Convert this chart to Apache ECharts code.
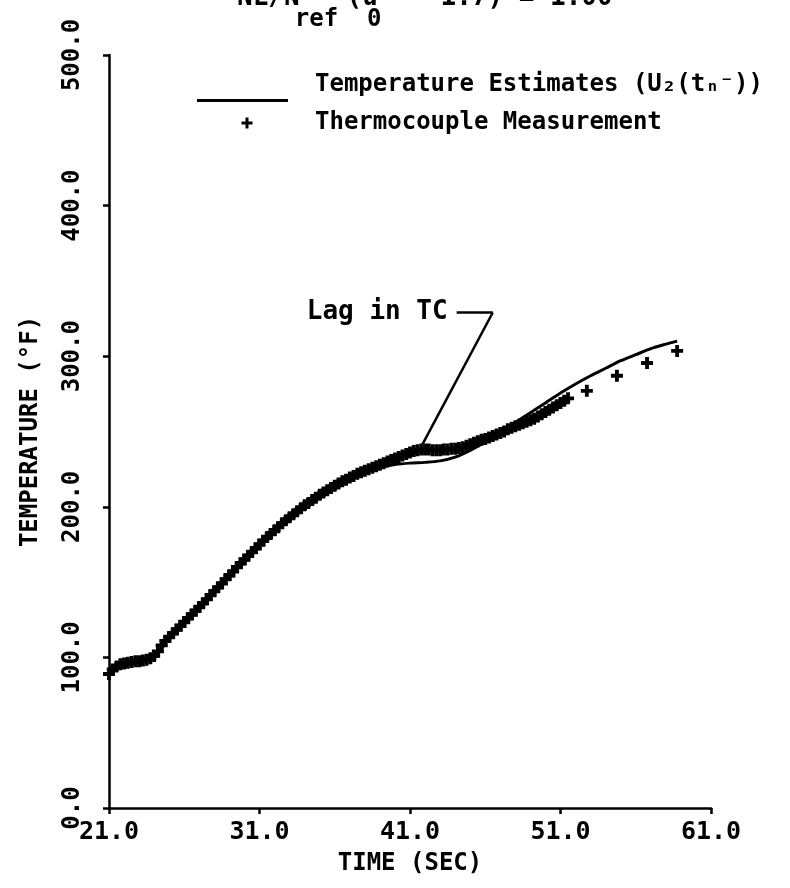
<!DOCTYPE html>
<html>
<head>
<meta charset="utf-8">
<script src="https://cdn.jsdelivr.net/npm/echarts@6/dist/echarts.min.js"></script>
<style>
  html, body { margin: 0; background: #fff; }
  #chart { width: 790px; height: 888px; }
</style>
</head>
<body>
<div id="chart"></div>
<script>
// temperature estimate curve (sec, degF)
const estTime = [21, 21.5, 22, 23, 23.5, 24, 24.5, 25,
  26, 27, 28, 29, 30, 31, 32, 33,
  34, 35, 36, 37, 38, 39, 40, 41,
  42, 43, 44, 45, 46, 47, 48, 49,
  50, 51, 52, 53, 54, 55, 56, 57,
  58, 58.75];
const estTemp = [88, 93, 95.5, 97, 98, 100, 106, 113,
  123.5, 134, 144.5, 155, 165.5, 175.5, 185, 193.5,
  201.5, 208, 214, 219, 223, 226, 228, 229,
  229.5, 230.5, 233, 237.5, 243, 249.5, 256, 262.5,
  269, 275.5, 281.5, 287, 292, 297, 301, 305,
  308, 310];

// thermocouple readings (sec, degF)
const tcTime = [21, 21.25, 21.5, 21.75, 22, 22.25, 22.5, 22.75,
  23, 23.25, 23.5, 23.75, 24, 24.25, 24.5, 24.75,
  25, 25.25, 25.5, 25.75, 26, 26.25, 26.5, 26.75,
  27, 27.25, 27.5, 27.75, 28, 28.25, 28.5, 28.75,
  29, 29.25, 29.5, 29.75, 30, 30.25, 30.5, 30.75,
  31, 31.25, 31.5, 31.75, 32, 32.25, 32.5, 32.75,
  33, 33.25, 33.5, 33.75, 34, 34.25, 34.5, 34.75,
  35, 35.25, 35.5, 35.75, 36, 36.25, 36.5, 36.75,
  37, 37.25, 37.5, 37.75, 38, 38.25, 38.5, 38.75,
  39, 39.25, 39.5, 39.75, 40, 40.25, 40.5, 40.75,
  41, 41.25, 41.5, 41.75, 42, 42.25, 42.5, 42.75,
  43, 43.25, 43.5, 43.75, 44, 44.25, 44.5, 44.75,
  45, 45.25, 45.5, 45.75, 46, 46.25, 46.5, 46.75,
  47, 47.25, 47.5, 47.75, 48, 48.25, 48.5, 48.75,
  49, 49.25, 49.5, 49.75, 50, 50.25, 50.5, 50.75,
  51, 51.25, 51.5,
  52.75, 54.75, 56.75, 58.75];
const tcTemp = [89, 92, 94, 95.5, 96, 96.5, 97, 97.5,
  97.5, 98, 98.5, 99.5, 101, 104, 108, 111,
  113.5, 116, 118.5, 121, 123.5, 126, 128.5, 131,
  133.5, 136, 138.5, 141.5, 144, 146.5, 149, 152,
  154.5, 157, 160, 162.5, 165, 167.5, 170, 172.5,
  175, 177.5, 180, 182, 184.5, 186.5, 189, 191,
  193, 195, 197, 199, 201, 202.5, 204.5, 206,
  208, 209.5, 211, 212.5, 214, 215.5, 217, 218,
  219.5, 220.5, 222, 223, 224, 225, 226, 227,
  228, 229, 230, 231, 232, 233, 234, 235,
  236, 237, 237.5, 238, 238, 238, 237.5, 237.5,
  237.5, 238, 238, 238.5, 238.5, 239, 239.5, 240.5,
  241.5, 242.5, 243.5, 244.5, 245, 246, 247, 248,
  249, 250, 251.5, 252.5, 253.5, 254.5, 255.5, 256.5,
  257.5, 258.5, 260, 261.5, 263, 264.5, 266, 267.5,
  269, 270.5, 272,
  277, 287, 295.5, 303.5];

const xTicks = [21, 31, 41, 51, 61];
const yTicks = [0, 100, 200, 300, 400, 500];

// "Lag in TC" leader, in data units
const lagLabelEnd = [44.1, 329];
const lagCorner = [46.5, 329];
const lagTip = [41.8, 241];

const estName = 'Temperature Estimates (U\u2082(t\u2099\u207B))';
const tcName = 'Thermocouple Measurement';

const FONT = '"DejaVu Sans Mono", monospace';

const zip = (xs, ys) => xs.map((x, i) => [x, ys[i]]);

// legend icons: box is 113 x 36, line drawn low, plus centred
const lineIcon = 'path://M0,0L0,0M113,36L113,36M0,32H91V35H0Z';
const plusIcon = 'path://M0,0L0,0M113,36L113,36M44.5,16.5H55.5V19.5H44.5ZM48.5,12.5H51.5V23.5H48.5Z';
const plusSymbol = 'path://M0,3.4H10V6.6H0ZM3.4,0H6.6V10H3.4Z';

const chart = echarts.init(document.getElementById('chart'));

chart.setOption({
  backgroundColor: '#fff',
  animation: false,
  textStyle: { fontFamily: FONT, color: '#000' },
  title: [
    {
      text: 'NL/N   (u  - 1.7) = 1.00',
      left: 232, top: -20,
      textStyle: { fontFamily: FONT, fontSize: 26, fontWeight: 'bold', color: '#000' }
    },
    {
      text: '    ref  0',
      left: 232, top: 3,
      textStyle: { fontFamily: FONT, fontSize: 24, fontWeight: 'bold', color: '#000' }
    }
  ],
  legend: {
    orient: 'vertical',
    left: 192,
    top: 62,
    itemWidth: 113,
    itemHeight: 36,
    itemGap: 2,
    selectedMode: false,
    itemStyle: { borderWidth: 0 },
    textStyle: { fontFamily: FONT, fontSize: 24, fontWeight: 'bold', color: '#000' },
    data: [
      { name: estName, icon: lineIcon },
      { name: tcName, icon: plusIcon }
    ]
  },
  grid: { left: 109, right: 79, top: 55, bottom: 80, containLabel: false },
  xAxis: {
    type: 'value',
    min: xTicks[0], max: xTicks[xTicks.length - 1], interval: 10,
    name: 'TIME (SEC)',
    nameLocation: 'middle',
    nameGap: 44,
    nameTextStyle: { fontFamily: FONT, fontSize: 24, fontWeight: 'bold', color: '#000' },
    axisLine: { lineStyle: { color: '#000', width: 2.5 } },
    axisTick: { show: true, inside: false, length: 6, lineStyle: { color: '#000', width: 2.5 } },
    splitLine: { show: false },
    axisLabel: {
      fontFamily: FONT, fontSize: 25, fontWeight: 'bold', color: '#000', margin: 12,
      showMinLabel: true, showMaxLabel: true,
      formatter: v => v.toFixed(1)
    }
  },
  yAxis: {
    type: 'value',
    min: yTicks[0], max: yTicks[yTicks.length - 1], interval: 100,
    name: 'TEMPERATURE (\u00B0F)',
    nameLocation: 'middle',
    nameRotate: 90,
    nameGap: 66,
    nameTextStyle: { fontFamily: FONT, fontSize: 24, fontWeight: 'bold', color: '#000' },
    axisLine: { lineStyle: { color: '#000', width: 2.5 } },
    axisTick: { show: true, inside: false, length: 6, lineStyle: { color: '#000', width: 2.5 } },
    splitLine: { show: false },
    axisLabel: {
      fontFamily: FONT, fontSize: 24, fontWeight: 'bold', color: '#000', margin: 24, rotate: 90,
      showMinLabel: true, showMaxLabel: true,
      formatter: v => v.toFixed(1)
    }
  },
  series: [
    {
      name: estName,
      type: 'line',
      data: zip(estTime, estTemp),
      showSymbol: false,
      smooth: 0.3,
      color: '#000',
      lineStyle: { color: '#000', width: 3 },
      z: 3,
      markLine: {
        silent: true,
        symbol: 'none',
        animation: false,
        lineStyle: { color: '#000', width: 2.5, type: 'solid' },
        label: { show: false },
        emphasis: { disabled: true },
        data: [
          [
            {
              coord: lagLabelEnd,
              label: {
                show: true, position: 'start', distance: 9,
                formatter: 'Lag in TC',
                fontFamily: FONT, fontSize: 26, fontWeight: 'bold', color: '#000'
              }
            },
            { coord: lagCorner }
          ],
          [{ coord: lagCorner }, { coord: lagTip }]
        ]
      }
    },
    {
      name: tcName,
      type: 'scatter',
      data: zip(tcTime, tcTemp),
      symbol: plusSymbol,
      symbolSize: 12,
      color: '#000',
      itemStyle: { color: '#000', opacity: 1 },
      z: 2
    }
  ]
});
</script>
</body>
</html>
